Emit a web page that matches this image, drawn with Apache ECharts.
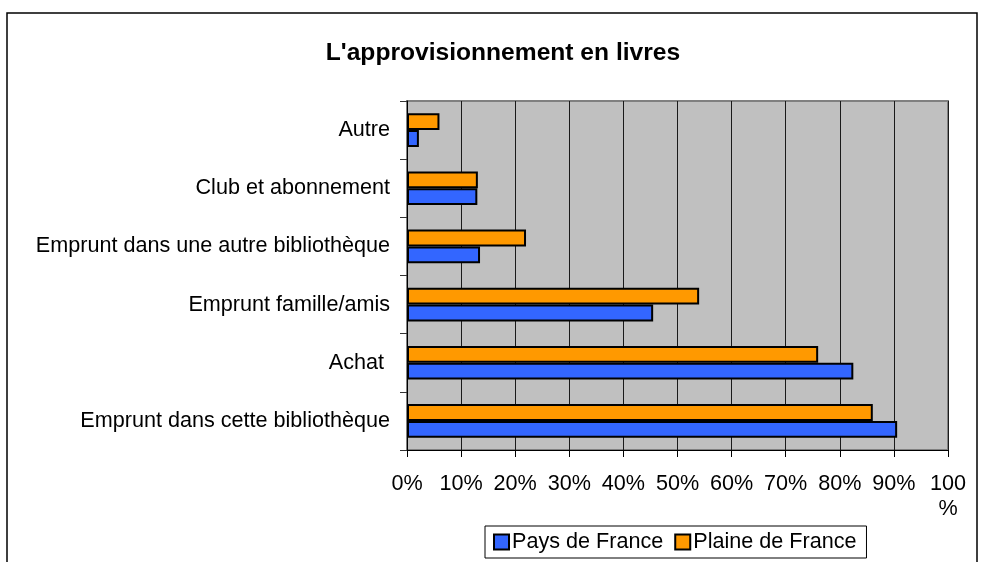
<!DOCTYPE html>
<html>
<head>
<meta charset="utf-8">
<script src="https://cdn.jsdelivr.net/npm/echarts@6/dist/echarts.min.js"></script>
<style>
html,body{margin:0;padding:0;background:#fff;}
#chart{width:984px;height:562px;}
</style>
</head>
<body>
<div id="chart"></div>
<script>
const titleText = "L'approvisionnement en livres";
const categories = [
  "Emprunt dans cette bibliothèque",
  "Achat ",
  "Emprunt famille/amis",
  "Emprunt dans une autre bibliothèque",
  "Club et abonnement",
  "Autre"
];
const seriesNames = ["Pays de France", "Plaine de France"];
const paysDeFrance = [90.6, 82.5, 45.5, 13.5, 13.0, 2.2];
const plaineDeFrance = [86.1, 76.0, 54.0, 22.0, 13.1, 6.0];
const xTicks = [0, 10, 20, 30, 40, 50, 60, 70, 80, 90, 100];

const FONT = "'Liberation Sans', Arial, sans-serif";
const FS = 21.6;
const chart = echarts.init(document.getElementById('chart'), null, {renderer: 'canvas'});

const option = {
  animation: false,
  backgroundColor: '#fff',
  textStyle: {fontFamily: FONT},
  graphic: [{
    type: 'rect',
    shape: {x: 7, y: 13, width: 970, height: 620},
    style: {fill: 'none', stroke: '#000', lineWidth: 1.5},
    silent: true,
    z: -10
  }],
  title: {
    text: titleText,
    left: 498,
    top: 36,
    textAlign: 'center',
    textStyle: {fontFamily: FONT, fontSize: 24.6, fontWeight: 'bold', color: '#000'}
  },
  legend: {
    data: seriesNames,
    left: 485,
    top: 526,
    orient: 'horizontal',
    padding: [5, 10, 5, 8],
    itemGap: 11,
    itemWidth: 15,
    itemHeight: 15,
    icon: 'rect',
    borderColor: '#000',
    borderWidth: 1,
    backgroundColor: '#fff',
    textStyle: {fontFamily: FONT, fontSize: FS, color: '#000', padding: [0, 0, 0, -2]}
  },
  grid: {
    left: 407,
    top: 101,
    width: 541,
    height: 349,
    show: true,
    backgroundColor: '#C0C0C0',
    borderColor: '#808080',
    borderWidth: 2,
    containLabel: false
  },
  xAxis: {
    type: 'value',
    min: 0,
    max: 100,
    interval: 10,
    axisLine: {show: true, lineStyle: {color: '#000', width: 1}},
    axisTick: {show: true, length: 7, lineStyle: {color: '#000'}},
    splitLine: {show: true, lineStyle: {color: '#1a1a1a', width: 1}},
    axisLabel: {
      margin: 22,
      fontFamily: FONT,
      fontSize: FS,
      color: '#000',
      lineHeight: 25,
      formatter: function (v) { return v === 100 ? '100\n%' : v + '%'; }
    }
  },
  yAxis: {
    type: 'category',
    data: categories,
    axisLine: {show: true, lineStyle: {color: '#000', width: 1}},
    axisTick: {show: true, length: 7, lineStyle: {color: '#333'}},
    splitLine: {show: false},
    axisLabel: {margin: 17, fontFamily: FONT, fontSize: FS, color: '#000'}
  },
  series: [
    {
      name: seriesNames[1],
      type: 'bar',
      data: plaineDeFrance,
      barGap: '0%',
      barCategoryGap: '42%',
      itemStyle: {color: '#FF9900', borderColor: '#000', borderWidth: 2}
    },
    {
      name: seriesNames[0],
      type: 'bar',
      data: paysDeFrance,
      barGap: '0%',
      barCategoryGap: '42%',
      itemStyle: {color: '#3366FF', borderColor: '#000', borderWidth: 2}
    }
  ]
};
chart.setOption(option);
</script>
</body>
</html>
